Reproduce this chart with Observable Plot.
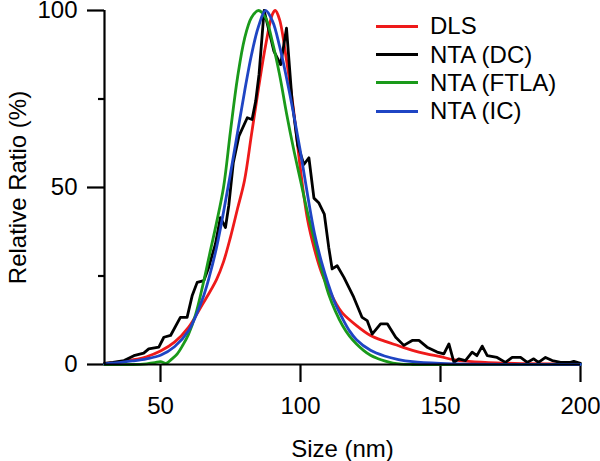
<!DOCTYPE html>
<html><head><meta charset="utf-8">
<script src="https://cdn.jsdelivr.net/npm/d3@7"></script>
<script src="https://cdn.jsdelivr.net/npm/@observablehq/plot@0.6"></script>
<style>
body{margin:0;background:#fff;}
#chart{position:relative;width:600px;height:461px;font-family:"Liberation Sans",Arial,sans-serif;}
.legend{position:absolute;left:376px;top:12px;font-size:24px;color:#000;line-height:1;}
.legend .row{display:flex;align-items:center;height:28.4px;}
.legend .sw{display:inline-block;width:42px;height:3px;margin-right:12px;}
</style></head><body><div id="chart"></div>
<script>
const seriesNames = ["DLS", "NTA (DC)", "NTA (FTLA)", "NTA (IC)"];
const seriesColors = ["#ee1a1a", "#000000", "#1a9a1a", "#1f45c4"];
const xTicks = [50, 100, 150, 200];
const yTicks = [0, 50, 100];
const yMinorTicks = [25, 75];

const dlsX = [30,35,40,45,50,55,60,65,70,72.5,75,77.5,80,82.5,85,87.5,90,91,92.5,95,97.5,100,102.5,105,107.5,110,112.5,115,120,125,130,135,140,145,150,155,160,170,180,190,200];
const dlsY = [0.3,0.7,1.3,2.2,3.8,6.3,10.5,17,24,29,36,44,52,65,78,90,99,100,97.5,86,72,55,41,32.5,26,21.5,17.5,14.5,11,8.2,6.6,5.3,4,3,2.2,1.3,0.9,0.45,0.25,0.15,0.1];

const dcX = [30,33,37,40.5,44,45.8,49.4,51.2,53.6,57.1,59.5,61.3,63.1,65.5,67.2,69.6,71.4,73.2,74.4,76,78,81,82.7,84,85.2,86.3,87,90.5,92.9,95,97,99,101.2,103,104.8,106.5,108.5,110.1,111.3,113.1,115.5,119,122,123.8,125.6,128.6,131,134,136.9,139.9,142.3,145.2,148.8,151.2,153,154.8,156.5,158.9,161.3,163,164.9,166.7,170.2,173.2,175.6,178.6,181,183.3,185,187.5,189.9,192.9,196.4,197.6,200];
const dcY = [0.3,0.6,1.1,2.5,3.2,4.4,4.9,7.7,8.2,13.3,13.3,19.4,23.2,23.7,27.4,34,41.5,38.7,45,57,64.5,69.7,69.2,74.4,82,93,100,88.5,84.7,95,74.4,62,56.5,58.4,47,45.7,42.5,33,27,27.9,24.6,19,13.3,12.4,8.6,11.5,11.5,7.7,5.4,6.8,6.8,4.9,3.5,3,5.8,0.6,1.6,1.1,3.5,2.5,5.2,2.5,2,0.6,2,2,0.6,1.6,0.6,2,1.1,0.6,0.6,0.9,0.3];

const ftlaX = [30,40,45,48,50,52,54,56,58,60,62.5,65,67.5,70,72.5,75,77.5,80,82.5,85,87.5,90,92.5,95,97.5,100,102.5,105,107.5,110,112.5,115,117.5,120,122.5,125,127.5,130,133,136,140,150,200];
const ftlaY = [0,0,0.2,0.5,0.8,0.3,1.5,3,5.5,8.5,14,22,31,40,50,66,81,92,98,100,98,91,82,71,61,52,43,35,27,20,15,11,8,5.8,4,2.6,1.7,1,0.4,0.1,0,0,0];

const icX = [30,35,40,45,50,55,60,65,67.5,70,72.5,75,77.5,80,82.5,85,87.5,90,92.5,95,97.5,100,102.5,105,107.5,110,112.5,115,117.5,120,125,130,135,140,150,160,200];
const icY = [0.2,0.5,1,1.6,2.6,5,9.5,18.5,25,33,43,54,65.5,77,87.5,95.5,100,97,90,81,71,60,48,37,29,22.5,17,13,9.5,7,4,2.4,1.4,0.8,0.3,0.1,0];

const seriesX = [dlsX, dcX, ftlaX, icX];
const seriesY = [dlsY, dcY, ftlaY, icY];
const rows = seriesNames.flatMap((name, i) => seriesX[i].map((x, j) => ({series: name, x, y: seriesY[i][j]})));

const lineMarks = seriesNames.map((name, i) =>
  Plot.line(rows.filter(d => d.series === name), {
    x: "x", y: "y", stroke: seriesColors[i], strokeWidth: 2.8,
    curve: name === "NTA (DC)" ? "linear" : "catmull-rom"
  })
);

const chart = Plot.plot({
  width: 600, height: 461,
  marginLeft: 104, marginRight: 20, marginTop: 10, marginBottom: 97,
  style: {fontSize: "24px", fontFamily: "'Liberation Sans', Arial, sans-serif", color: "#000", background: "#fff"},
  x: {domain: [30, 200]},
  y: {domain: [0, 100]},
  marks: [
    Plot.axisX({ticks: xTicks, tickSize: 18, tickPadding: 14, stroke: "#000", strokeWidth: 2.2, label: "Size (nm)", labelAnchor: "center", labelArrow: "none", labelOffset: 92}),
    Plot.axisY({ticks: yTicks, tickSize: 17, tickPadding: 10, stroke: "#000", strokeWidth: 2.2, label: "Relative Ratio (%)", labelAnchor: "center", labelArrow: "none", labelOffset: 96}),
    Plot.axisY({ticks: yMinorTicks, tickSize: 6, stroke: "#000", strokeWidth: 2.2, tickFormat: () => "", label: null}),
    ...lineMarks,
    Plot.ruleX([30], {stroke: "#000", strokeWidth: 2.2}),
    Plot.ruleY([0], {stroke: "#000", strokeWidth: 2.2})
  ]
});

// make sure axis tick strokes are solid and heavy like the reference
d3.select(chart).selectAll('g[aria-label$="tick"]').attr("stroke", "#000").attr("stroke-width", 2.2).attr("stroke-opacity", 1);

const root = document.getElementById("chart");
root.appendChild(chart);
const legend = document.createElement("div");
legend.className = "legend";
seriesNames.forEach((name, i) => {
  const row = document.createElement("div");
  row.className = "row";
  const sw = document.createElement("span");
  sw.className = "sw";
  sw.style.background = seriesColors[i];
  const t = document.createElement("span");
  t.textContent = name;
  row.appendChild(sw); row.appendChild(t);
  legend.appendChild(row);
});
root.appendChild(legend);
</script>
</body></html>
